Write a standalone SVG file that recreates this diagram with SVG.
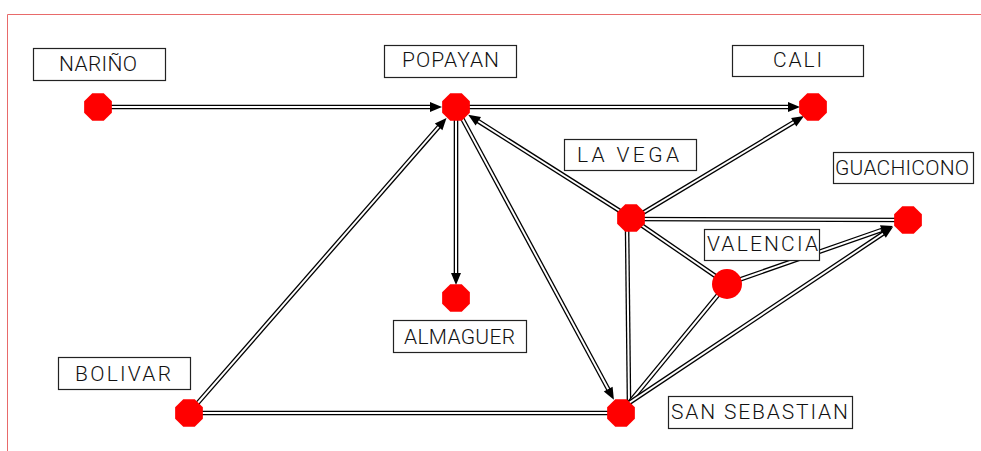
<svg xmlns="http://www.w3.org/2000/svg" xmlns:xlink="http://www.w3.org/1999/xlink" width="981" height="451" viewBox="0 0 981 451">
  <style>
    .frame { fill: none; stroke: #e86a6a; stroke-width: 1; }
    .box { fill: #ffffff; stroke: #222222; stroke-width: 1.2; }
    .lbl { font-family: "Roboto", "Liberation Sans", sans-serif; font-weight: 300; font-size: 21px; fill: #111111; }
    .wire-o { fill: none; stroke: #000000; stroke-width: 4.6; }
    .wire-i { fill: none; stroke: #ffffff; stroke-width: 2; }
    .head { fill: #000000; }
    .dot { fill: #ff0000; }
  </style>
  <defs>
    <polygon id="oct" points="5.74,-13.86 13.86,-5.74 13.86,5.74 5.74,13.86 -5.74,13.86 -13.86,5.74 -13.86,-5.74 -5.74,-13.86"/>
  </defs>

  <!-- sheet frame -->
  <path class="frame" d="M7.5,451 V14.5 H981"/>

  <!-- connectors: double line = black stroke with white core -->
  <g id="connectors">
    <!-- Nariño -> Popayan -->
    <g><path class="wire-o" d="M98,107 H432"/><path class="wire-i" d="M98,107 H432"/><polygon class="head" points="442,107 430,102 430,112"/></g>
    <!-- Popayan -> Cali -->
    <g><path class="wire-o" d="M456,107 H789"/><path class="wire-i" d="M456,107 H789"/><polygon class="head" points="800,107 788,102 788,112"/></g>
    <!-- Popayan -> Almaguer -->
    <g><path class="wire-o" d="M456,107 V274"/><path class="wire-i" d="M456,107 V274"/><polygon class="head" points="456,285 451,273 461,273"/></g>
    <!-- Bolivar -> Popayan -->
    <g><path class="wire-o" d="M189,413 L439.9,125.4"/><path class="wire-i" d="M189,413 L439.9,125.4"/><polygon class="head" points="446.5,117.9 442.4,130.2 434.8,123.6"/></g>
    <!-- Popayan -> San Sebastian -->
    <g><path class="wire-o" d="M456,107 L609.2,391"/><path class="wire-i" d="M456,107 L609.2,391"/><polygon class="head" points="613.9,399.8 603.8,391.6 612.6,386.8"/></g>
    <!-- La Vega -> Popayan -->
    <g><path class="wire-o" d="M631,218 L476.6,120.2"/><path class="wire-i" d="M631,218 L476.6,120.2"/><polygon class="head" points="468.2,114.8 481,117 475.6,125.4"/></g>
    <!-- La Vega -> Cali -->
    <g><path class="wire-o" d="M631,220 L795.4,121.2"/><path class="wire-i" d="M631,220 L795.4,121.2"/><polygon class="head" points="804,116 796.3,126.5 791.1,117.9"/></g>
    <!-- La Vega - Guachicono -->
    <g><path class="wire-o" d="M631,219 L908,220"/><path class="wire-i" d="M631,219 L908,220"/></g>
    <!-- La Vega - Valencia -->
    <g><path class="wire-o" d="M631,218 L727,284"/><path class="wire-i" d="M631,218 L727,284"/></g>
    <!-- La Vega - San Sebastian -->
    <g><path class="wire-o" d="M627,222 L629,403"/><path class="wire-i" d="M627,222 L629,403"/></g>
    <!-- San Sebastian - Valencia -->
    <g><path class="wire-o" d="M629,403 L727,284"/><path class="wire-i" d="M629,403 L727,284"/></g>
    <!-- Valencia -> Guachicono -->
    <g><path class="wire-o" d="M727,284 L883.6,229.3"/><path class="wire-i" d="M727,284 L883.6,229.3"/><polygon class="head" points="893,226 883.3,234.7 880,225.3"/></g>
    <!-- San Sebastian -> Guachicono -->
    <g><path class="wire-o" d="M629,403 L884.7,232.5"/><path class="wire-i" d="M629,403 L884.7,232.5"/><polygon class="head" points="893,227 885.8,237.8 880.2,229.5"/></g>
    <!-- Bolivar - San Sebastian -->
    <g><path class="wire-o" d="M189,413 H621"/><path class="wire-i" d="M189,413 H621"/></g>
  </g>

  <!-- stations -->
  <g id="narino">
    <rect class="box" x="33.5" y="48.5" width="132" height="32"/>
    <text class="lbl" x="59" y="71" textLength="78" lengthAdjust="spacing">NARIÑO</text>
    <use xlink:href="#oct" class="dot" x="98" y="107"/>
  </g>
  <g id="popayan">
    <rect class="box" x="384.5" y="45.5" width="132" height="32"/>
    <text class="lbl" x="402" y="67" textLength="97" lengthAdjust="spacing">POPAYAN</text>
    <use xlink:href="#oct" class="dot" x="456" y="107"/>
  </g>
  <g id="cali">
    <rect class="box" x="732.5" y="45.5" width="131" height="31"/>
    <text class="lbl" x="773" y="67" textLength="49" lengthAdjust="spacing">CALI</text>
    <use xlink:href="#oct" class="dot" x="813" y="107"/>
  </g>
  <g id="la-vega">
    <rect class="box" x="564.5" y="139.5" width="132" height="31"/>
    <text class="lbl" x="577" y="162" textLength="102" lengthAdjust="spacing">LA VEGA</text>
    <use xlink:href="#oct" class="dot" x="631" y="218"/>
  </g>
  <g id="guachicono">
    <rect class="box" x="833.5" y="152.5" width="140" height="31"/>
    <text class="lbl" x="835" y="175" textLength="134" lengthAdjust="spacing">GUACHICONO</text>
    <use xlink:href="#oct" class="dot" x="908" y="220"/>
  </g>
  <g id="valencia">
    <rect class="box" x="704.5" y="229.5" width="115" height="31"/>
    <text class="lbl" x="707" y="251" textLength="111" lengthAdjust="spacing">VALENCIA</text>
    <circle class="dot" cx="727" cy="284" r="15"/>
  </g>
  <g id="almaguer">
    <rect class="box" x="393.5" y="320.5" width="133" height="32"/>
    <text class="lbl" x="404" y="344" textLength="111" lengthAdjust="spacing">ALMAGUER</text>
    <use xlink:href="#oct" class="dot" x="456" y="298"/>
  </g>
  <g id="bolivar">
    <rect class="box" x="58.5" y="357.5" width="132" height="32"/>
    <text class="lbl" x="75" y="381" textLength="96" lengthAdjust="spacing">BOLIVAR</text>
    <use xlink:href="#oct" class="dot" x="189" y="413"/>
  </g>
  <g id="san-sebastian">
    <rect class="box" x="668.5" y="396.5" width="184" height="32"/>
    <text class="lbl" x="671" y="419" textLength="177" lengthAdjust="spacing">SAN SEBASTIAN</text>
    <use xlink:href="#oct" class="dot" x="621" y="413"/>
  </g>
</svg>
